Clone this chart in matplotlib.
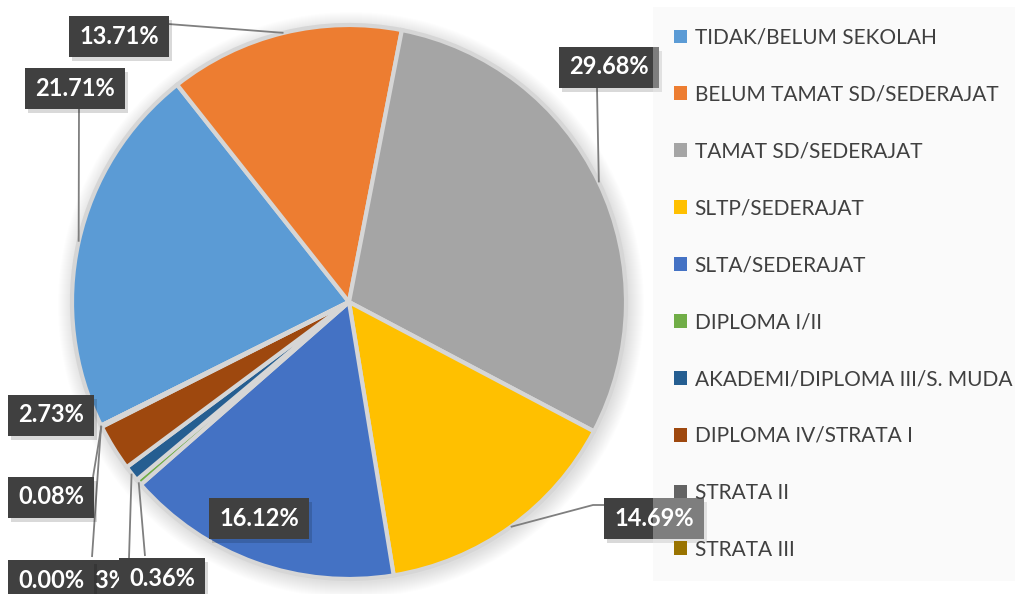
import matplotlib
matplotlib.use("Agg")
import matplotlib.pyplot as plt
from matplotlib.patches import Circle, Rectangle
import numpy as np

# Education level shares (%)
categories = [
    "TIDAK/BELUM SEKOLAH",
    "BELUM TAMAT SD/SEDERAJAT",
    "TAMAT SD/SEDERAJAT",
    "SLTP/SEDERAJAT",
    "SLTA/SEDERAJAT",
    "DIPLOMA I/II",
    "AKADEMI/DIPLOMA III/S. MUDA",
    "DIPLOMA IV/STRATA I",
    "STRATA II",
    "STRATA III",
]
shares = [21.71, 13.71, 29.68, 14.69, 16.12, 0.36, 0.93, 2.73, 0.08, 0.00]
colors = ["#5B9BD5", "#ED7D31", "#A5A5A5", "#FFC000", "#4472C4",
          "#70AD47", "#255E91", "#9E480E", "#636363", "#997300"]

W, H = 1015, 594
fig = plt.figure(figsize=(W / 100, H / 100), dpi=100)
ax = fig.add_axes([0, 0, 1, 1])

cx, cy, R = 349, H - 302, 277

# soft shadow under the pie
for i in range(16):
    ax.add_patch(Circle((cx + 2, cy - 3), R + 16 - i, color="#000000",
                        alpha=0.007, lw=0, zorder=0))

wedges, _ = ax.pie(shares, colors=colors, startangle=206.5, counterclock=False,
                   center=(cx, cy), radius=R,
                   wedgeprops=dict(edgecolor="#d6d6d6", linewidth=3))
for w in wedges:
    w.set_zorder(1)

ax.set_xlim(0, W)
ax.set_ylim(0, H)
ax.set_aspect("equal")
ax.axis("off")


def edge_point(i):
    w = wedges[i]
    a = np.deg2rad((w.theta1 + w.theta2) / 2)
    return cx + R * np.cos(a), cy + R * np.sin(a)


# label layout: centre of label box (pixel coords, from top) and leader paths
label_pos = {
    0: (75, 88), 1: (119, 36), 2: (609, 67), 3: (654, 518), 4: (259, 518),
    5: (162, 578), 6: (95, 580), 7: (51, 415), 8: (51, 497), 9: (51, 580),
}
leader_to = {
    0: [(79, 108)],
    1: [(168, 24)],
    2: [(597, 88)],
    3: [(593, 505), (606, 505)],
    5: [(145, 556)],
    6: [(129, 558)],
    8: [(93, 477)],
    9: [(92, 557)],
}
label_z = {6: 3, 9: 4, 5: 5}

for i, pts in leader_to.items():
    x0, y0 = edge_point(i)
    xs = [x0] + [p[0] for p in pts]
    ys = [y0] + [H - p[1] for p in pts]
    ax.plot(xs, ys, color="#7f7f7f", lw=1.3, zorder=2, solid_capstyle="butt")

fig.canvas.draw()
renderer = fig.canvas.get_renderer()
for i, v in enumerate(shares):
    x, y = label_pos[i][0], H - label_pos[i][1]
    z = label_z.get(i, 4)
    t = ax.text(x, y, f"{v:.2f}%", ha="center", va="center", fontsize=17,
                fontweight="bold", family="Lato", color="white",
                zorder=7 if i == 3 else z + 0.1)
    bb = t.get_window_extent(renderer)
    bw = bb.width + 20
    bh = 41
    ax.add_patch(Rectangle((x - bw / 2 + 3, y - bh / 2 - 4), bw, bh,
                           fc="#000000", ec="none", alpha=0.15, zorder=z - 0.2))
    ax.add_patch(Rectangle((x - bw / 2, y - bh / 2), bw, bh,
                           fc="#404040", ec="none", zorder=z))

leg = ax.legend(wedges, categories, loc="upper left",
                bbox_to_anchor=(653 / W, 1 - 578 / H, (W - 653) / W, 571 / H),
                mode="expand", frameon=True, fancybox=False,
                facecolor="#f2f2f2", edgecolor="none", framealpha=0.35,
                prop=dict(family="Lato", size=15), labelcolor="#404040",
                handlelength=0.65, handleheight=0.65, handletextpad=0.35,
                labelspacing=1.77, borderpad=1.0, borderaxespad=0)
leg.set_zorder(6)
for h in leg.legend_handles:
    h.set_edgecolor("none")

fig.savefig("out.png", dpi=100)
